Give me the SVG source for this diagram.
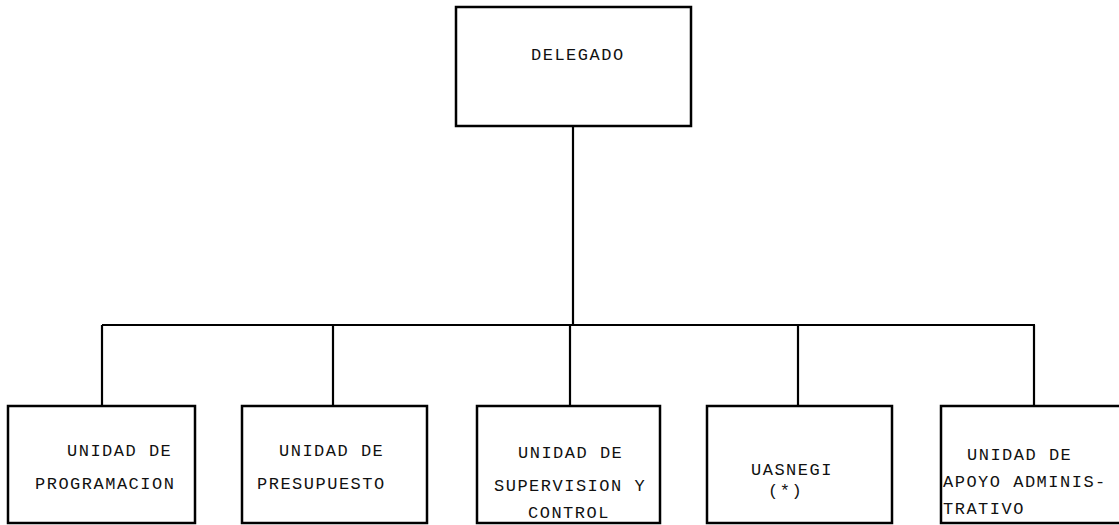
<svg xmlns="http://www.w3.org/2000/svg" width="1119" height="525" viewBox="0 0 1119 525">
<style>
.box{fill:#fff;stroke:#000;stroke-width:2.5}
.ln{fill:none;stroke:#000;stroke-width:2.2}
text{font-family:"Liberation Mono","DejaVu Sans Mono",monospace;font-size:17px;letter-spacing:1.5px;fill:#111}
</style>
<rect width="1119" height="525" fill="#fff"/>
<g id="connectors">
<line class="ln" x1="573" y1="126" x2="573" y2="325"/>
<line class="ln" x1="102" y1="325" x2="1035" y2="325"/>
<line class="ln" x1="102" y1="325" x2="102" y2="406"/>
<line class="ln" x1="333" y1="325" x2="333" y2="406"/>
<line class="ln" x1="570" y1="325" x2="570" y2="406"/>
<line class="ln" x1="798" y1="325" x2="798" y2="406"/>
<line class="ln" x1="1034" y1="325" x2="1034" y2="406"/>
</g>
<g id="delegado">
<rect class="box" x="456" y="7" width="235" height="119"/>
<text x="531" y="60">DELEGADO</text>
</g>
<g id="programacion">
<rect class="box" x="8" y="406" width="187" height="117"/>
<text x="67" y="456">UNIDAD DE</text>
<text x="35" y="489">PROGRAMACION</text>
</g>
<g id="presupuesto">
<rect class="box" x="242" y="406" width="185" height="117"/>
<text x="279" y="456">UNIDAD DE</text>
<text x="257" y="489">PRESUPUESTO</text>
</g>
<g id="supervision">
<rect class="box" x="477" y="406" width="183" height="117"/>
<text x="518" y="458">UNIDAD DE</text>
<text x="494" y="491">SUPERVISION Y</text>
<text x="528" y="518">CONTROL</text>
</g>
<g id="uasnegi">
<rect class="box" x="707" y="406" width="185" height="117"/>
<text x="751" y="475">UASNEGI</text>
<text x="768" y="496">(*)</text>
</g>
<g id="apoyo">
<rect class="box" x="941" y="406" width="200" height="117"/>
<text x="967" y="460">UNIDAD DE</text>
<text x="943" y="487">APOYO ADMINIS-</text>
<text x="943" y="514">TRATIVO</text>
</g>
</svg>
